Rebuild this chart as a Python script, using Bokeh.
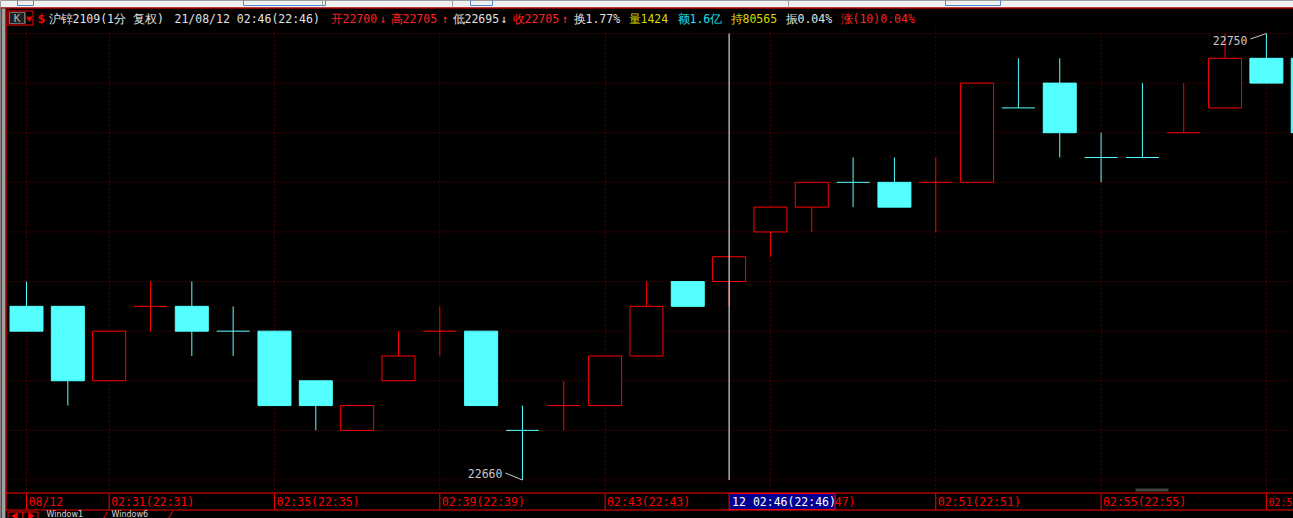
from bokeh.plotting import figure
from bokeh.embed import file_html
from bokeh.resources import INLINE
from bokeh.core.properties import value

# ---------------- data ----------------
opens  = [22695, 22695, 22680, 22695, 22695, 22690, 22690, 22680, 22670, 22680, 22690,
          22690, 22670, 22675, 22675, 22685, 22700, 22700, 22710, 22715, 22720, 22720,
          22720, 22720, 22735, 22740, 22725, 22725, 22730, 22735, 22745, 22745]
highs  = [22700, 22695, 22690, 22700, 22700, 22695, 22690, 22680, 22675, 22690, 22695,
          22690, 22675, 22680, 22685, 22700, 22700, 22705, 22715, 22720, 22725, 22725,
          22725, 22740, 22745, 22745, 22730, 22740, 22740, 22750, 22750, 22745]
lows   = [22690, 22675, 22680, 22690, 22685, 22685, 22675, 22670, 22670, 22680, 22685,
          22675, 22660, 22670, 22675, 22685, 22695, 22695, 22705, 22710, 22715, 22715,
          22710, 22720, 22735, 22725, 22720, 22725, 22730, 22735, 22740, 22730]
closes = [22690, 22680, 22690, 22695, 22690, 22690, 22675, 22675, 22675, 22685, 22690,
          22675, 22670, 22675, 22685, 22695, 22695, 22705, 22715, 22720, 22720, 22715,
          22720, 22740, 22735, 22730, 22725, 22725, 22730, 22745, 22740, 22730]

tick_index = [0, 2, 6, 10, 14, 18, 22, 26, 30]
tick_labels = ["08/12", "02:31(22:31)", "02:35(22:35)", "02:39(22:39)", "02:43(22:43)",
               "02:47(22:47)", "02:51(22:51)", "02:55(22:55)", "02:5"]
price_levels = [22660, 22670, 22680, 22690, 22700, 22710, 22720, 22730, 22740, 22750]

cursor_index = 17
cursor_label = "12 02:46(22:46)"

header_texts = ["沪锌2109(1分 复权)", "21/08/12 02:46(22:46)", "开22700", "↓", "高22705", "↑",
                "低22695", "↓", "收22705", "↑", "换1.77%", "量1424", "额1.6亿", "持80565",
                "振0.04%", "涨(10)0.04%"]
header_colors = ["#E0E0E0", "#E0E0E0", "#FF2020", "#FF2020", "#FF2020", "#FF2020",
                 "#E0E0E0", "#E0E0E0", "#FF2020", "#FF2020", "#E0E0E0", "#D8D800",
                 "#20E0F0", "#D8D800", "#E0E0E0", "#FF2020"]
tab_names = ["Window1", "Window6"]

# ---------------- geometry helpers (pixels -> data) ----------------
W, H = 1293, 518
X0, DX = 26.0, 41.33        # px of index 0, px per candle
Y0, DY, P0 = 33.0, 4.961, 22750.0   # px of P0, px per price unit


def X(px):
    return (px - X0) / DX


def Y(py):
    return P0 - (py - Y0) / DY


RED = "#FF0000"
CYAN = "#54FFFF"
GRID = "#8C0000"
MONO = value("DejaVu Sans Mono")

p = figure(width=W, height=H, x_range=(X(0), X(W)), y_range=(Y(H), Y(0)),
           x_axis_type=None, y_axis_type=None, toolbar_location=None,
           output_backend="svg", min_border=0,
           background_fill_color="black", border_fill_color="black",
           styles={"position": "absolute", "left": "0px", "top": "0px"})
p.outline_line_color = None

# ---------------- grid ----------------
p.segment(x0=[X(5)] * len(price_levels), y0=price_levels, x1=[X(W)] * len(price_levels),
          y1=price_levels, line_color=GRID, line_width=1, line_dash="1 3")
p.segment(x0=tick_index, y0=[Y(28)] * len(tick_index), x1=tick_index,
          y1=[Y(492)] * len(tick_index), line_color=GRID, line_width=1, line_dash="1 3")

# ---------------- candles ----------------
n = len(opens)
idx = list(range(n))
colors = []
for i in idx:
    o, c = opens[i], closes[i]
    up = c > o or (c == o and i > 0 and c > closes[i - 1])
    colors.append(RED if up else CYAN)

p.segment(x0=idx, y0=lows, x1=idx, y1=highs, line_color=colors, line_width=1)

bw = 33 / DX
body_i = [i for i in idx if opens[i] != closes[i]]
p.vbar(x=body_i, width=bw,
       top=[max(opens[i], closes[i]) for i in body_i],
       bottom=[min(opens[i], closes[i]) for i in body_i],
       fill_color=["black" if colors[i] == RED else CYAN for i in body_i],
       line_color=[colors[i] for i in body_i], line_width=1)

doji_i = [i for i in idx if opens[i] == closes[i]]
p.segment(x0=[i - bw / 2 for i in doji_i], y0=[closes[i] for i in doji_i],
          x1=[i + bw / 2 for i in doji_i], y1=[closes[i] for i in doji_i],
          line_color=[colors[i] for i in doji_i], line_width=1)

# high / low markers
vis = [i for i in idx if i <= 30]
hi_val = max(highs[i] for i in vis)
lo_val = min(lows[i] for i in vis)
hi_i = max(i for i in vis if highs[i] == hi_val)
lo_i = min(i for i in vis if lows[i] == lo_val)
p.text(x=[hi_i, lo_i], y=[hi_val, lo_val], text=[str(hi_val), str(lo_val)],
       x_offset=[-19, -20], y_offset=[7, -6], text_align="right", text_baseline="middle",
       text_color="#C8C8C8", text_font=MONO, text_font_size="11.5px")
p.segment(x0=[hi_i - 16 / DX, lo_i - 17 / DX], y0=[hi_val - 5.5 / DY, lo_val + 7 / DY],
          x1=[hi_i, lo_i], y1=[hi_val, lo_val], line_color="#C8C8C8", line_width=1)

# cursor line
p.segment(x0=[cursor_index], y0=[hi_val], x1=[cursor_index], y1=[lo_val],
          line_color="white", line_width=1)

# ---------------- header ----------------
p.quad(left=[X(0)], right=[X(W)], top=[Y(0)], bottom=[Y(7)], fill_color="#F0F0F0",
       line_color=None)
p.quad(left=[X(17), X(243), X(470), X(945)], right=[X(33), X(325), X(492), X(1000)],
       top=[Y(-3)] * 4, bottom=[Y(5)] * 4, fill_color=None, line_color="#4A8AD8",
       line_width=1)
p.segment(x0=[X(322), X(452), X(788)], y0=[Y(0)] * 3, x1=[X(322), X(452), X(788)],
          y1=[Y(6)] * 3, line_color="#A0A0A0")
p.segment(x0=[X(0)], y0=[Y(7.5)], x1=[X(W)], y1=[Y(7.5)], line_color=RED, line_width=1)
p.quad(left=[X(1)], right=[X(5)], top=[Y(8)], bottom=[Y(H)], fill_color="#A0A0A0",
       line_color=None)
p.segment(x0=[X(5.5)], y0=[Y(8)], x1=[X(5.5)], y1=[Y(510)], line_color=RED)

# K button
p.quad(left=[X(7.5)], right=[X(32.5)], top=[Y(10.5)], bottom=[Y(24.5)],
       fill_color="black", line_color=RED)
p.quad(left=[X(9)], right=[X(24)], top=[Y(12)], bottom=[Y(23)],
       fill_color="#202020", line_color="#707070")
p.segment(x0=[X(25)], y0=[Y(11)], x1=[X(25)], y1=[Y(24)], line_color=RED)
p.text(x=[X(16.5)], y=[Y(17.5)], text=["K"], text_color="#B0B0B0", text_font=MONO,
       text_font_size="11px", text_align="center", text_baseline="middle")
p.scatter(x=[X(28.8)], y=[Y(18)], marker="inverted_triangle", size=5, fill_color=RED,
          line_color=RED)
p.text(x=[X(37)], y=[Y(18)], text=["$"], text_color=RED, text_font=MONO,
       text_font_size="13px", text_font_style="bold", text_align="left",
       text_baseline="middle")

header_x = [48, 174, 330, 379, 390, 441, 452, 500, 512, 561, 573, 628, 677, 730, 785, 840]
p.text(x=[X(v) for v in header_x], y=[Y(18)] * len(header_texts), text=header_texts,
       text_color=header_colors, text_font=MONO, text_font_size="11.5px",
       text_align="left", text_baseline="middle")

# ---------------- time axis strip ----------------
p.segment(x0=[X(5), X(5)], y0=[Y(492.5), Y(509.5)], x1=[X(W), X(W)],
          y1=[Y(492.5), Y(509.5)], line_color=RED)
p.segment(x0=tick_index, y0=[Y(493)] * len(tick_index), x1=tick_index,
          y1=[Y(509)] * len(tick_index), line_color=RED)
tick_sizes = ["11.5px"] * (len(tick_labels) - 1) + ["10px"]
p.text(x=tick_index, y=[Y(501.5)] * len(tick_index), text=tick_labels, x_offset=2,
       text_color=RED, text_font=MONO, text_font_size=tick_sizes, text_align="left",
       text_baseline="middle")
p.quad(left=[cursor_index], right=[cursor_index + 106 / DX], top=[Y(493)],
       bottom=[Y(509)], fill_color="#000090", line_color=RED)
p.text(x=[cursor_index], y=[Y(501.5)], text=[cursor_label], x_offset=3,
       text_color="white", text_font=MONO, text_font_size="11.5px", text_align="left",
       text_baseline="middle")
# scrollbar thumb
p.quad(left=[X(1135)], right=[X(1168)], top=[Y(488)], bottom=[Y(491)],
       fill_color="#404040", line_color=None)

# ---------------- window tabs ----------------
p.quad(left=[X(7.5), X(22.5)], right=[X(22.5), X(37.5)], top=[Y(511.5)] * 2,
       bottom=[Y(522)] * 2, fill_color="black", line_color=RED)
p.scatter(x=[X(15), X(30)], y=[Y(515.5)] * 2, marker="triangle", angle=[1.5708, -1.5708],
          size=6, fill_color=RED, line_color=RED)
p.text(x=[X(46), X(111)], y=[Y(514)] * 2, text=tab_names,
       text_color="#D8D8D8", text_font=value("DejaVu Sans"), text_font_size="8px",
       text_align="left", text_baseline="middle")
p.segment(x0=[X(103), X(168)], y0=[Y(518), Y(518)], x1=[X(107), X(172)],
          y1=[Y(511), Y(511)], line_color=RED)

open("out.html", "w").write(file_html(p, INLINE))
